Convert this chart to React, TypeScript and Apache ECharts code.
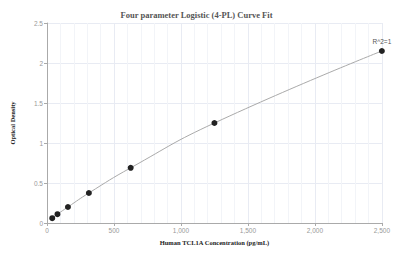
import React, { useEffect, useRef } from "react";
import * as echarts from "echarts";

const concentrations = [39.06, 78.13, 156.25, 312.5, 625, 1250, 2500];
const densities = [0.06, 0.11, 0.2, 0.375, 0.69, 1.25, 2.15];
const titleText = "Four parameter Logistic (4-PL) Curve Fit";
const xName = "Human TCL1A Concentration (pg/mL)";
const yName = "Optical Density";
const r2Label = "R^2=1";

export default function App() {
  const ref = useRef<HTMLDivElement>(null);
  useEffect(() => {
    const chart = echarts.init(ref.current!, null, { renderer: "svg" });
    const pts = concentrations.map((c, i) => [c, densities[i]]);
    chart.setOption({
      animation: false,
      title: {
        text: titleText,
        left: "center",
        top: 5,
        textStyle: { fontFamily: "Liberation Serif, serif", fontWeight: "bold", fontSize: 8.5, color: "#555" },
      },
      grid: { left: 47, right: 10, top: 23, bottom: 30 },
      xAxis: {
        type: "value",
        min: 0,
        max: 2500,
        interval: 500,
        name: xName,
        nameLocation: "middle",
        nameGap: 15,
        nameTextStyle: { fontFamily: "Liberation Serif, serif", fontWeight: "bold", fontSize: 6.5, color: "#222" },
        axisLine: { show: true, lineStyle: { color: "#aaa" } },
        axisTick: { show: true, length: 3, lineStyle: { color: "#aaa" } },
        axisLabel: { fontSize: 6.5, color: "#999", margin: 4, formatter: (v: number) => v.toLocaleString("en-US") },
        splitLine: { show: true, lineStyle: { color: "#e8ebf3", width: 1 } },
        minorTick: { show: false, splitNumber: 5 },
        minorSplitLine: { show: true, lineStyle: { color: "#f2f4f8", width: 1 } },
      },
      yAxis: {
        type: "value",
        min: 0,
        max: 2.5,
        interval: 0.5,
        name: yName,
        nameLocation: "middle",
        nameGap: 31,
        nameTextStyle: { fontFamily: "Liberation Serif, serif", fontWeight: "bold", fontSize: 6.5, color: "#222" },
        axisLine: { show: true, lineStyle: { color: "#aaa" } },
        axisTick: { show: true, length: 3, lineStyle: { color: "#aaa" } },
        axisLabel: { fontSize: 6.5, color: "#999", margin: 4 },
        splitLine: { show: true, lineStyle: { color: "#e8ebf3", width: 1 } },
      },
      series: [
        {
          type: "line",
          data: pts,
          smooth: true,
          symbol: "circle",
          symbolSize: 6,
          itemStyle: { color: "#222" },
          lineStyle: { color: "#aaa", width: 1 },
          label: {
            show: true,
            position: "top",
            distance: 3,
            fontSize: 6.5,
            color: "#555",
            formatter: (p: any) => (p.dataIndex === concentrations.length - 1 ? r2Label : ""),
          },
        },
      ],
    });
    return () => chart.dispose();
  }, []);
  return <div ref={ref} style={{ width: 393, height: 253, position: "absolute", left: 0, top: 0 }} />;
}
